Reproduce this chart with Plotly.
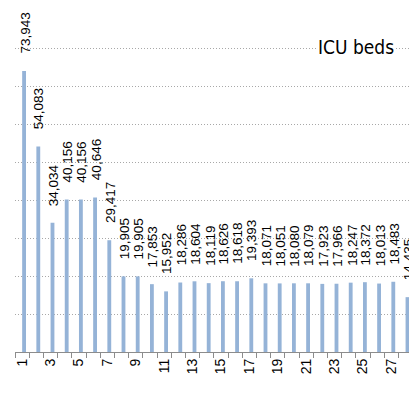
import plotly.graph_objects as go

categories = list(range(1, 29))
icu_beds = [73943, 54083, 34034, 40156, 40156, 40646, 29417, 19905, 19905, 17853,
            15952, 18286, 18604, 18119, 18626, 18618, 19393, 18071, 18051, 18080,
            18079, 17923, 17966, 18247, 18372, 18013, 18483, 14435]
tick_cats = [c for c in categories if c % 2 == 1]
tick_text = [str(c) for c in tick_cats]
title_text = "ICU beds"

BAR_COLOR = "#95B3D7"
LABEL_FONT = "Liberation Sans, Arial, sans-serif"

fig = go.Figure()
fig.add_trace(go.Bar(
    x=categories, y=icu_beds,
    width=0.27, offset=0.005,
    marker=dict(color=BAR_COLOR, line=dict(width=0)),
    hoverinfo="skip",
))

annotations = []
for c, v in zip(categories, icu_beds):
    annotations.append(dict(
        x=c + 0.14, y=v, xref="x", yref="y",
        text=f"{v:,}", textangle=-90, showarrow=False,
        xanchor="center", yanchor="bottom", yshift=15, xshift=1,
        font=dict(family=LABEL_FONT, size=13.5, color="#000000"),
    ))
annotations.append(dict(
    x=0.866, y=0.892, xref="paper", yref="paper",
    text=title_text, showarrow=False, xanchor="center", yanchor="middle",
    bgcolor="#ffffff", borderpad=1,
    font=dict(family="Liberation Sans Narrow, DejaVu Sans Condensed, Arial Narrow, Liberation Sans, sans-serif",
              size=19, color="#000000"),
))

fig.update_layout(
    width=409, height=411,
    margin=dict(l=15, r=0, t=10, b=59, pad=0),
    paper_bgcolor="#ffffff", plot_bgcolor="#ffffff",
    showlegend=False,
    annotations=annotations,
    font=dict(family=LABEL_FONT, size=13, color="#000000"),
    xaxis=dict(
        range=[0.5, 28.246], tickmode="array", tickvals=tick_cats, ticktext=tick_text,
        tickangle=-90, ticks="", showgrid=False, zeroline=False,
        showline=True, linecolor="#8c8c8c", linewidth=1,
        tickfont=dict(family=LABEL_FONT, size=14, color="#000000"),
        minor=dict(tickvals=[c - 0.5 for c in categories] + [categories[-1] + 0.5],
                   ticks="outside", ticklen=5, tickcolor="#8c8c8c", tickwidth=1,
                   showgrid=False),
        fixedrange=True,
    ),
    yaxis=dict(
        range=[0, 90000], dtick=10000, tick0=0, showticklabels=False,
        showgrid=True, gridcolor="#a8a8a8", gridwidth=1, griddash="1px,2px",
        zeroline=False, showline=False, ticks="", fixedrange=True,
    ),
)

fig.write_html("out.html",
               config={"displayModeBar": False, "staticPlot": True},
               post_script="document.body.style.margin='0';document.body.style.padding='0';")
